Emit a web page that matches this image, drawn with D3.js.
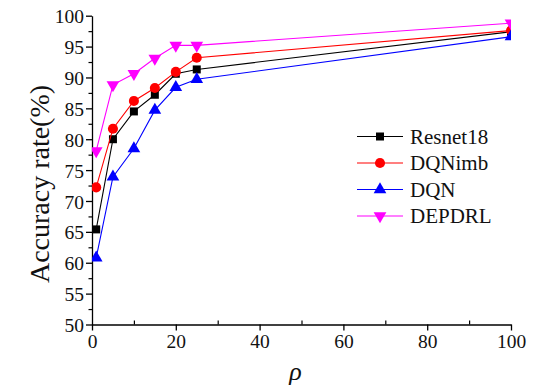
<!DOCTYPE html>
<html>
<head>
<meta charset="utf-8">
<script src="https://cdn.jsdelivr.net/npm/d3@7"></script>
<style>
  body { margin: 0; background: #fff; }
  svg text { font-family: 'Liberation Serif', 'Times New Roman', Times, serif !important; }
</style>
</head>
<body>
<div id="vis"></div>
<script>
// chart data
const rho = [1, 5, 10, 15, 20, 25, 100];
const resnet18 = [65.4, 80.0, 84.5, 87.2, 90.6, 91.3, 97.4];
const dqnImb = [72.2, 81.7, 86.2, 88.3, 90.9, 93.2, 97.6];
const dqn = [60.8, 73.9, 78.5, 84.7, 88.4, 89.7, 96.6];
const depdrl = [78.1, 88.8, 90.6, 93.1, 95.2, 95.2, 98.8];
const seriesNames = ['Resnet18', 'DQNimb', 'DQN', 'DEPDRL'];
const seriesColors = ['#000000', '#ff0000', '#0000ff', '#ff00ff'];
const seriesSymbols = ['square', 'circle', 'triangle', 'triangleDown'];
const xTicks = [0, 20, 40, 60, 80, 100];
const yTicks = [50, 55, 60, 65, 70, 75, 80, 85, 90, 95, 100];

const serif = "'Liberation Serif', 'Times New Roman', serif";

function createVis() {
  const width = 533, height = 389;
  const left = 92, right = 511, top = 15.7, bottom = 324.5;

  const svg = d3.select('#vis').append('svg')
    .attr('width', width)
    .attr('height', height)
    .attr('font-family', serif);

  const x = d3.scaleLinear().domain([0, 100]).range([left, right]);
  const y = d3.scaleLinear().domain([50, 100]).range([bottom, top]);

  svg.append('clipPath').attr('id', 'plot-clip')
    .append('rect')
      .attr('x', left).attr('y', 0)
      .attr('width', right - left).attr('height', bottom);

  // minor ticks
  svg.append('g')
    .attr('transform', `translate(0,${bottom})`)
    .call(d3.axisTop(x).tickValues(d3.range(10, 100, 20)).tickSize(4).tickFormat(''))
    .call(g => g.select('.domain').remove())
    .selectAll('line').attr('stroke-width', 1.2);
  svg.append('g')
    .attr('transform', `translate(${left},0)`)
    .call(d3.axisLeft(y).tickValues(d3.range(52.5, 100, 5)).tickSize(3.5).tickFormat(''))
    .call(g => g.select('.domain').remove())
    .selectAll('line').attr('stroke-width', 1.2);

  // main axes
  const xAxis = svg.append('g')
    .attr('transform', `translate(0,${bottom})`)
    .call(d3.axisBottom(x).tickValues(xTicks).tickSize(6).tickSizeOuter(0).tickPadding(4));
  const yAxis = svg.append('g')
    .attr('transform', `translate(${left},0)`)
    .call(d3.axisLeft(y).tickValues(yTicks).tickSize(6).tickSizeOuter(0).tickPadding(2));
  [xAxis, yAxis].forEach(ax => {
    ax.attr('font-family', serif).attr('font-size', 19.5);
    ax.selectAll('text').attr('fill', '#111');
    ax.select('.domain').attr('stroke-width', 1.3);
    ax.selectAll('line').attr('stroke-width', 1.3);
  });
  yAxis.selectAll('text').attr('dy', '0.36em');

  // axis titles
  svg.append('text')
    .attr('transform', 'translate(49,184) rotate(-90)')
    .attr('text-anchor', 'middle')
    .attr('font-size', 28)
    .attr('fill', '#111')
    .text('Accuracy rate(%)');
  svg.append('text')
    .attr('x', (left + right) / 2 - 6)
    .attr('y', 380)
    .attr('text-anchor', 'middle')
    .attr('font-size', 26)
    .attr('font-style', 'italic')
    .attr('fill', '#111')
    .text('ρ');

  const symbolPath = {
    square: d3.symbol().type(d3.symbolSquare).size(64),
    circle: d3.symbol().type(d3.symbolCircle).size(80),
    triangle: d3.symbol().type(d3.symbolTriangle).size(70),
    triangleDown: d3.symbol().type(d3.symbolTriangle).size(70)
  };

  const allSeries = [resnet18, dqnImb, dqn, depdrl];
  const plot = svg.append('g').attr('clip-path', 'url(#plot-clip)');
  const line = d3.line().x((d, i) => x(rho[i])).y(d => y(d));

  allSeries.forEach((vals, s) => {
    plot.append('path')
      .datum(vals)
      .attr('d', line)
      .attr('fill', 'none')
      .attr('stroke', seriesColors[s])
      .attr('stroke-width', 1.1);
    plot.selectAll(null)
      .data(vals)
      .join('path')
        .attr('d', symbolPath[seriesSymbols[s]]())
        .attr('transform', (d, i) => `translate(${x(rho[i])},${y(d)})` +
          (seriesSymbols[s] === 'triangleDown' ? ' rotate(180)' : ''))
        .attr('fill', seriesColors[s]);
  });

  // legend
  const legend = svg.append('g').attr('transform', 'translate(357,136.5)');
  seriesNames.forEach((name, s) => {
    const row = legend.append('g').attr('transform', `translate(0,${s * 26.5})`);
    row.append('line')
      .attr('x1', 0).attr('x2', 46)
      .attr('stroke', seriesColors[s])
      .attr('stroke-width', 1.1);
    row.append('path')
      .attr('d', symbolPath[seriesSymbols[s]]())
      .attr('transform', `translate(23,0)` + (seriesSymbols[s] === 'triangleDown' ? ' rotate(180)' : ''))
      .attr('fill', seriesColors[s]);
    row.append('text')
      .attr('x', 53)
      .attr('dy', '0.34em')
      .attr('font-size', 21)
      .attr('fill', '#111')
      .text(name);
  });
}

createVis();
</script>
</body>
</html>
